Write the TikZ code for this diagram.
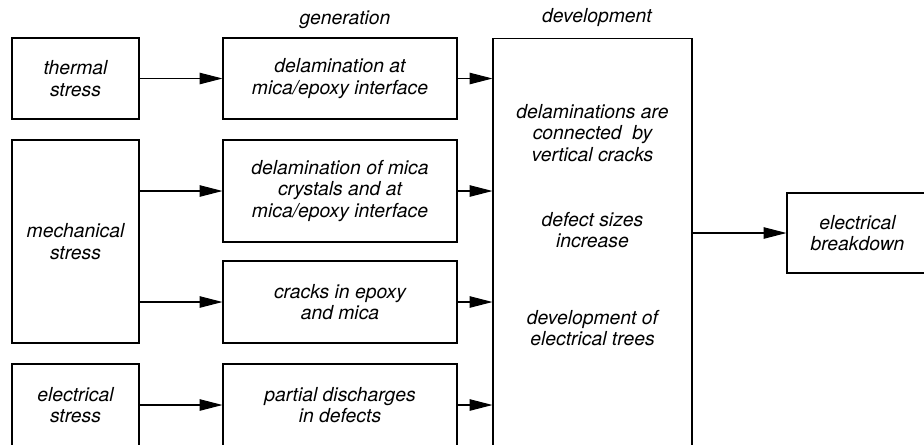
\documentclass[tikz,border=0pt]{standalone}
\usepackage{fontspec}
\setmainfont{TeX Gyre Heros}
\usetikzlibrary{arrows.meta}

\tikzset{
    box/.style={draw, line width=0.6pt, align=center, inner sep=0pt},
    lbl/.style={align=center, inner sep=0pt},
    arr/.style={line width=0.6pt, -{Triangle[length=13pt, width=6.5pt]}}
}

\begin{document}
\begin{tikzpicture}[x=0.02cm, y=-0.02cm,
        font=\fontsize{11}{12.2}\selectfont\itshape]
    \useasboundingbox (0, 0) rectangle (924, 444);
    \clip (0, 0) rectangle (924, 444);

    % causes
    \node[box, minimum width=2.54cm, minimum height=1.62cm] (thermal) at (75.5, 78.5) {thermal\\stress};
    \node[box, minimum width=2.54cm, minimum height=4.06cm] (mech) at (75.5, 241.5) {mechanical\\stress};
    \node[box, minimum width=2.54cm, minimum height=1.64cm] (elec) at (75.5, 405) {electrical\\stress};

    % generation
    \node[lbl] (hgen) at (345, 20) {generation};
    \node[box, minimum width=4.68cm, minimum height=1.62cm] (gena) at (340, 78.5) {delamination at\\mica/epoxy interface};
    \node[box, minimum width=4.68cm, minimum height=2.04cm] (genb) at (340, 191) {delamination of mica\\crystals and at\\mica/epoxy interface};
    \node[box, minimum width=4.68cm, minimum height=1.64cm] (genc) at (340, 302) {cracks in epoxy\\and mica};
    \node[box, minimum width=4.68cm, minimum height=1.64cm] (gend) at (340, 405) {partial discharges\\in defects};

    % development
    \node[lbl] (hdev) at (597, 18) {development};
    \node[box, minimum width=3.98cm, minimum height=8.44cm] (dev) at (592.5, 249) {};
    \node[lbl] (deva) at (592.5, 133) {delaminations are\\connected~~by\\vertical cracks};
    \node[lbl] (devb) at (592.5, 230) {defect sizes\\increase};
    \node[lbl] (devc) at (592.5, 328) {development of\\electrical trees};

    \node[box, minimum width=2.82cm, minimum height=1.6cm] (brk) at (857.5, 233) {electrical\\breakdown};

    % connectors
    \draw[arr] (thermal) -- (gena);
    \draw[arr] (mech.east |- genb) -- (genb);
    \draw[arr] (mech.east |- genc) -- (genc);
    \draw[arr] (elec) -- (gend);
    \draw[arr] (gena) -- (gena -| dev.west);
    \draw[arr] (genb) -- (genb -| dev.west);
    \draw[arr] (genc) -- (genc -| dev.west);
    \draw[arr] (gend) -- (gend -| dev.west);
    \draw[arr] (dev.east |- brk) -- (brk);
\end{tikzpicture}
\end{document}
